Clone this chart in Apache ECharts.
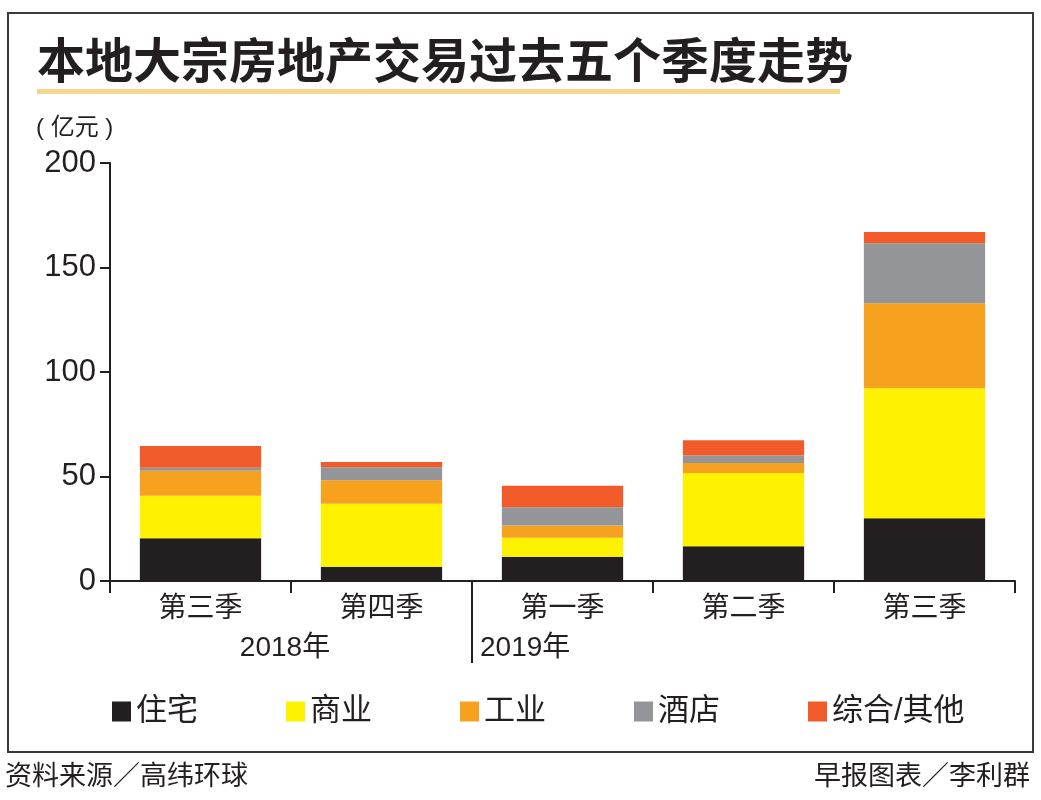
<!DOCTYPE html>
<html>
<head>
<meta charset="utf-8">
<script src="https://cdn.jsdelivr.net/npm/echarts@6/dist/echarts.min.js"></script>
<style>
  html, body { margin: 0; padding: 0; background: #fff; }
  #main { width: 1041px; height: 800px; }
</style>
</head>
<body>
<div id="main"></div>
<script>
// 季度（横轴）
const quarters = ['第三季', '第四季', '第一季', '第二季', '第三季'];
// 年份标注，第一个覆盖前两季
const years = ['2018年', '2019年'];
const yearSplit = 2; // 2019年从第 3 个类目开始

// 各类交易额（亿元）
const residential = [20.4, 6.8, 11.6, 16.6, 30.0];   // 住宅
const commercial  = [20.4, 30.2, 9.1, 35.1, 62.2];   // 商业
const industrial  = [12.0, 11.2, 5.8, 4.8, 40.7];    // 工业
const hotel       = [1.4, 6.2, 8.8, 3.6, 28.7];      // 酒店
const others      = [10.4, 2.5, 10.3, 7.2, 5.4];     // 综合/其他

const seriesNames = ['住宅', '商业', '工业', '酒店', '综合/其他'];
const yTicks = [0, 50, 100, 150, 200];

const FONT = '"Liberation Sans", "Noto Sans CJK SC", sans-serif';
const colors = ['#231f20', '#fff200', '#f7a21f', '#939598', '#f15a29'];

let chart = echarts.init(document.getElementById('main'), null, {renderer: 'canvas'});

let seriesData = [residential, commercial, industrial, hotel, others];
let series = seriesNames.map(function (name, i) {
    return {
        name: name,
        type: 'bar',
        stack: 'total',
        barWidth: '67%',
        data: seriesData[i],
        itemStyle: {color: colors[i]}
    };
});

let option = {
    backgroundColor: '#fff',
    animation: false,
    color: colors,
    grid: {left: 110, right: 26, top: 163, bottom: 219},
    legend: {
        left: 112,
        top: 696,
        padding: 0,
        itemWidth: 19,
        itemHeight: 20,
        itemGap: 88,
        icon: 'rect',
        textStyle: {fontFamily: FONT, fontSize: 31, color: '#231f20'},
        data: seriesNames
    },
    xAxis: {
        type: 'category',
        data: quarters,
        axisLine: {lineStyle: {color: '#231f20', width: 2}},
        axisTick: {show: true, length: 12, lineStyle: {color: '#231f20', width: 2}},
        axisLabel: {fontFamily: FONT, fontSize: 28, color: '#231f20', margin: 14}
    },
    yAxis: {
        type: 'value',
        min: yTicks[0],
        max: yTicks[yTicks.length - 1],
        interval: 50,
        splitLine: {show: false},
        axisLine: {show: true, lineStyle: {color: '#231f20', width: 2}},
        axisTick: {show: true, length: 10, lineStyle: {color: '#231f20', width: 2}},
        axisLabel: {fontFamily: FONT, fontSize: 31, color: '#231f20', margin: 14}
    },
    series: series
};

chart.setOption(option);

// 年份分隔线和标注，位置由坐标轴换算
let p0 = chart.convertToPixel({xAxisIndex: 0}, 0);
let p1 = chart.convertToPixel({xAxisIndex: 0}, 1);
let band = p1 - p0;
let splitX = Math.round(p0 + band * (yearSplit - 0.5));
let firstBoundary = p0 + band * 0.5;
let axisY = chart.convertToPixel({yAxisIndex: 0}, 0);

chart.setOption({
    graphic: [
        // 外框
        {type: 'rect', shape: {x: 8, y: 13, width: 1025, height: 739},
            style: {fill: 'none', stroke: '#3a3a3a', lineWidth: 2}, z: 0},
        // 标题
        {type: 'text', style: {text: '本地大宗房地产交易过去五个季度走势', x: 37, y: 60,
            font: 'bold 48px "Noto Sans CJK SC", sans-serif', fill: '#231f20', textVerticalAlign: 'middle'}},
        // 标题下划线
        {type: 'rect', shape: {x: 37, y: 89, width: 803, height: 5}, style: {fill: '#f4d68c'}},
        // 单位
        {type: 'text', style: {text: '( 亿元 )', x: 36, y: 128,
            font: '24px ' + FONT, fill: '#231f20', textVerticalAlign: 'middle'}},
        // 年份分隔线
        {type: 'line', shape: {x1: splitX, y1: axisY, x2: splitX, y2: axisY + 82},
            style: {stroke: '#231f20', lineWidth: 2}},
        {type: 'text', style: {text: years[0], x: firstBoundary - 6, y: 648,
            font: '28px ' + FONT, fill: '#231f20', textAlign: 'center', textVerticalAlign: 'middle'}},
        {type: 'text', style: {text: years[1], x: splitX + 8, y: 648,
            font: '28px ' + FONT, fill: '#231f20', textAlign: 'left', textVerticalAlign: 'middle'}},
        // 来源
        {type: 'text', style: {text: '资料来源／高纬环球', x: 5, y: 775,
            font: '27px "Noto Sans CJK SC", sans-serif', fill: '#231f20', textVerticalAlign: 'middle'}},
        {type: 'text', style: {text: '早报图表／李利群', x: 1030, y: 775,
            font: '27px "Noto Sans CJK SC", sans-serif', fill: '#231f20', textAlign: 'right', textVerticalAlign: 'middle'}}
    ]
});
</script>
</body>
</html>
